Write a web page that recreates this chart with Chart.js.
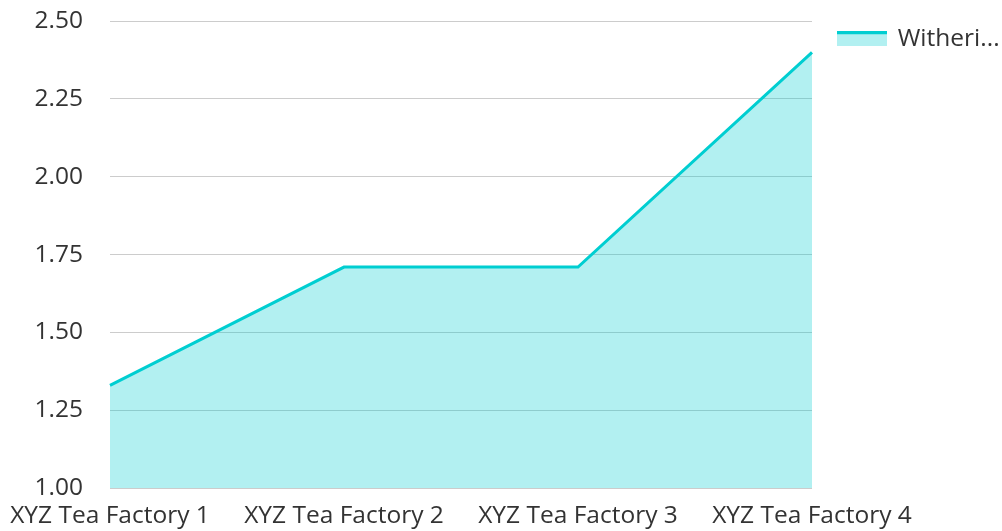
<!DOCTYPE html>
<html>
<head>
<meta charset="utf-8">
<script src="https://cdn.jsdelivr.net/npm/chart.js@4.4.1/dist/chart.umd.min.js"></script>
<style>
html,body{margin:0;padding:0;background:#fff;}
#wrap{width:1002px;height:531px;}
</style>
</head>
<body>
<div id="wrap"><canvas id="c"></canvas></div>
<script>
const categories = ["XYZ Tea Factory 1", "XYZ Tea Factory 2", "XYZ Tea Factory 3", "XYZ Tea Factory 4"];
const seriesValues = [1.33, 1.71, 1.71, 2.40];
const seriesLabel = "Witheri...";
const yTicks = [1.00, 1.25, 1.50, 1.75, 2.00, 2.25, 2.50];

const lineColor = "#00CED1";
const fillColor = "rgba(0,206,209,0.3)";
const textFont = { family: "'Open Sans', sans-serif", size: 24.5 };
const textColor = "#333333";

const sw = document.createElement('canvas');
sw.width = 50; sw.height = 15;
const sctx = sw.getContext('2d');
sctx.fillStyle = fillColor;
sctx.fillRect(0, 0, 50, 15);
sctx.fillStyle = lineColor;
sctx.fillRect(0, 0, 50, 3);

new Chart(document.getElementById('c'), {
  type: 'line',
  data: {
    labels: categories,
    datasets: [{
      label: seriesLabel,
      data: seriesValues,
      borderColor: lineColor,
      backgroundColor: fillColor,
      borderWidth: 3,
      fill: 'origin',
      tension: 0,
      pointRadius: 0,
      pointHoverRadius: 0
    }]
  },
  options: {
    responsive: true,
    maintainAspectRatio: false,
    animation: false,
    plugins: {
      legend: {
        position: 'right',
        align: 'start',
        maxWidth: 190,
        labels: {
          usePointStyle: true,
          pointStyle: sw,
          pointStyleWidth: 47,
          boxHeight: 15,
          padding: 26.5,
          font: textFont,
          color: textColor
        }
      },
      tooltip: { enabled: false }
    },
    scales: {
      x: {
        offset: false,
        grid: { display: false },
        border: { display: false },
        afterFit: (axis) => { axis.height = 43; },
        ticks: { maxRotation: 0, autoSkip: false, padding: 5.5, font: textFont, color: textColor }
      },
      y: {
        min: yTicks[0],
        max: yTicks[yTicks.length - 1],
        afterBuildTicks: (axis) => { axis.ticks = yTicks.map(v => ({ value: v })); },
        afterFit: (axis) => { axis.width = 110; },
        grid: { color: "#cccccc", drawTicks: true, tickLength: 20.5, tickColor: "rgba(0,0,0,0)" },
        border: { display: false },
        ticks: { padding: 6.5, font: textFont, color: textColor, callback: (v) => Number(v).toFixed(2) }
      }
    }
  }
});
</script>
</body>
</html>
